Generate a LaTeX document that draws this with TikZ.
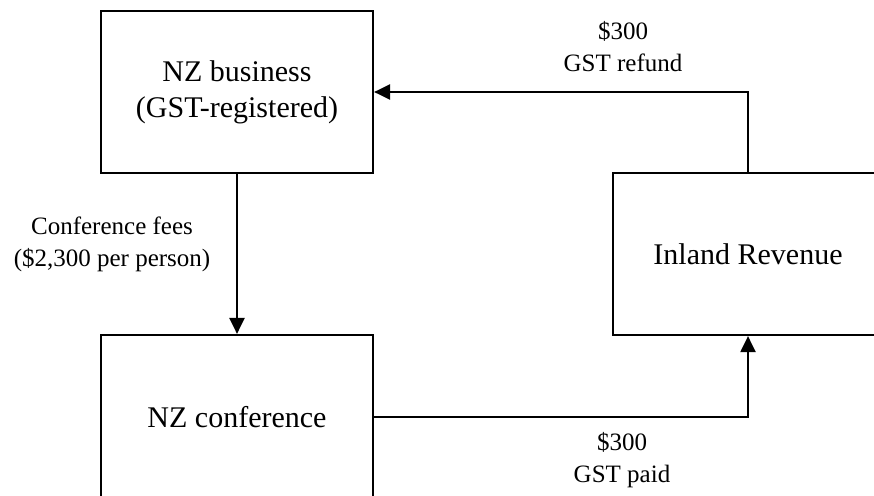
\documentclass[tikz,border=0pt]{standalone}
\usepackage{fontspec}
\setmainfont{Liberation Serif}
\usetikzlibrary{arrows.meta}
\tikzset{
  box/.style={draw=black, line width=2.2pt, fill=white, minimum width=272pt, minimum height=162pt, inner sep=0pt, align=center, font=\fontsize{30}{36}\selectfont},
  lbl/.style={align=center, inner sep=0pt, font=\fontsize{25}{32}\selectfont},
  arr/.style={draw=black, line width=2.2pt, -{Triangle[width=15pt,length=16pt]}}
}
\begin{document}
\begin{tikzpicture}[x=1pt,y=-1pt]
\useasboundingbox (0,0) rectangle (874,495);
\clip (0,0) rectangle (874,495);
\fill[white] (0,0) rectangle (874,495);
\node[box] (b) at (237,92) {NZ business\\(GST-registered)};
\node[box, minimum width=270pt] (ir) at (748,254) {Inland Revenue};
\node[box, minimum height=164pt] (c) at (237,417) {NZ conference};
\draw[arr] (b.south) -- (c.north);
\draw[arr] (ir.north) |- (b.east);
\draw[arr] (c.east) -| (ir.south);
\node[lbl] (l1) at (623,47) {\$300\\GST refund};
\node[lbl] (l2) at (622,460) {\$300\\GST paid};
\node[lbl] (l3) at (112,244) {Conference fees\\(\$2,300 per person)};
\end{tikzpicture}
\end{document}
